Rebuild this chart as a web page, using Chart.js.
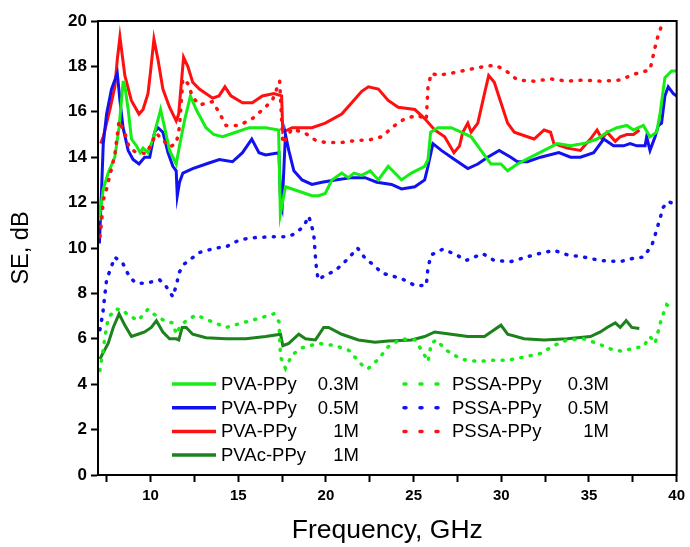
<!DOCTYPE html>
<html>
<head>
<meta charset="utf-8">
<script src="https://cdn.jsdelivr.net/npm/chart.js@4/dist/chart.umd.min.js"></script>
<style>
  body { margin: 0; background: #fff; }
  #wrap { width: 690px; height: 547px; }
</style>
</head>
<body>
<div id="wrap"><canvas id="seChart" width="690" height="547"></canvas></div>
<script>
// [frequency GHz, SE dB]
const pvaPPy03 = [[7.05,11.2],[7.11,11.5],[7.3,12.6],[7.58,13.3],[7.96,14.0],[8.2,15.3],[8.43,17.3],[8.5,17.3],[8.72,16.1],[8.91,14.8],[9.19,14.5],[9.4,14.2],[9.57,14.4],[9.85,14.2],[10.13,14.8],[10.57,16.1],[10.8,15.3],[11.08,14.3],[11.46,13.7],[11.65,14.5],[11.93,15.6],[12.27,16.7],[12.6,16.1],[13.16,15.3],[13.6,15.0],[14.1,14.9],[14.86,15.1],[15.62,15.3],[16.56,15.3],[17.3,15.2],[17.4,11.5],[17.69,12.7],[18.07,12.6],[18.83,12.4],[19.2,12.3],[19.58,12.3],[19.96,12.4],[20.34,13.0],[20.9,13.3],[21.28,13.1],[21.6,13.3],[22.04,13.2],[22.52,13.4],[22.99,13.0],[23.55,13.6],[24.31,13.0],[24.87,13.3],[25.63,13.6],[25.82,13.9],[25.97,15.1],[26.39,15.3],[27.14,15.3],[27.71,15.1],[28.28,14.9],[28.84,14.3],[29.41,13.7],[29.98,13.7],[30.36,13.4],[30.92,13.7],[31.68,14.0],[32.44,14.3],[33.19,14.6],[33.95,14.5],[34.7,14.6],[35.46,14.8],[36.03,15.1],[36.59,15.3],[37.16,15.4],[37.54,15.2],[38.1,15.4],[38.48,14.9],[38.86,15.1],[39.05,15.9],[39.33,17.5],[39.71,17.8],[40,17.8]];

const pvaPPy05 = [[7.08,10.2],[7.21,12.7],[7.3,14.6],[7.49,15.9],[7.77,17.0],[7.96,17.4],[8.1,17.7],[8.25,16.5],[8.43,15.3],[8.72,14.3],[9.0,13.9],[9.34,13.7],[9.66,14.0],[9.95,14.0],[10.23,15.1],[10.42,15.3],[10.7,15.1],[10.99,14.2],[11.27,13.6],[11.46,13.4],[11.52,12.3],[11.65,12.9],[11.84,13.3],[12.4,13.5],[13.16,13.7],[13.92,13.9],[14.67,13.8],[15.24,14.2],[15.77,14.8],[16.18,14.2],[16.56,14.1],[17.32,14.2],[17.41,12.1],[17.5,11.8],[17.69,15.0],[17.88,14.3],[18.17,13.4],[18.64,13.0],[19.2,12.8],[19.77,12.9],[20.53,13.0],[21.47,13.1],[22.23,13.1],[22.9,12.9],[23.74,12.8],[24.31,12.6],[25.07,12.7],[25.63,13.0],[25.82,13.6],[26.1,14.6],[26.58,14.3],[27.33,13.9],[28.09,13.5],[28.66,13.7],[29.22,14.0],[29.88,14.3],[30.54,14.0],[30.92,13.8],[31.49,13.8],[32.24,14.0],[33.28,14.2],[33.95,14.0],[34.51,14.0],[35.27,14.2],[35.84,14.8],[36.4,14.5],[36.97,14.5],[37.35,14.6],[37.73,14.5],[38.2,14.5],[38.29,14.9],[38.48,14.3],[38.77,14.9],[38.96,15.4],[39.14,15.5],[39.33,16.7],[39.52,17.1],[39.81,16.8],[40,16.7]];

const pvaPPy1 = [[7.15,14.6],[7.3,14.9],[7.68,16.1],[7.96,17.1],[8.1,18.3],[8.25,19.3],[8.53,17.6],[8.9,16.5],[9.34,15.9],[9.57,16.1],[9.85,16.8],[10.0,17.8],[10.19,19.2],[10.42,18.3],[10.7,17.0],[11.08,16.2],[11.46,15.6],[11.6,15.9],[11.88,18.4],[12.12,18.0],[12.4,17.3],[12.78,17.0],[13.54,16.6],[13.9,16.7],[14.24,17.1],[14.58,16.7],[15.24,16.4],[15.8,16.4],[16.37,16.7],[17.03,16.8],[17.47,16.7],[17.54,15.1],[18.07,15.3],[19.2,15.3],[19.96,15.5],[20.9,15.9],[21.47,16.4],[22.04,16.9],[22.42,17.1],[22.99,17.0],[23.55,16.5],[24.12,16.2],[25.07,16.1],[25.63,15.7],[26.2,15.2],[26.77,14.9],[27.3,14.2],[27.62,14.5],[27.8,15.1],[28.09,15.5],[28.28,15.1],[28.66,15.5],[29.04,16.8],[29.28,17.6],[29.6,17.3],[29.98,16.4],[30.36,15.5],[30.74,15.1],[31.49,14.9],[31.87,14.8],[32.44,15.2],[32.81,15.1],[33.0,14.6],[33.76,14.4],[34.51,14.3],[35.08,14.8],[35.46,15.2],[35.74,14.8],[36.03,15.1],[36.5,14.7],[36.78,14.9],[37.16,15.0],[37.54,15.0],[37.88,15.2]];

const pvacPPy1 = [[7.11,5.1],[7.3,5.4],[7.58,5.8],[7.87,6.5],[8.2,7.1],[8.53,6.6],[8.91,6.1],[9.28,6.2],[9.66,6.3],[10.04,6.5],[10.33,6.8],[10.7,6.3],[11.08,6.0],[11.46,6.0],[11.61,5.95],[11.8,6.5],[12.03,6.5],[12.4,6.2],[13.16,6.05],[14.3,6.0],[15.43,6.0],[16.56,6.1],[17.41,6.2],[17.54,5.7],[17.88,5.8],[18.45,6.2],[18.83,6.0],[19.4,5.95],[19.87,6.5],[20.15,6.5],[20.9,6.2],[21.85,5.95],[22.8,5.85],[23.55,5.9],[24.87,5.95],[25.63,6.1],[26.2,6.3],[27.14,6.2],[28.09,6.1],[29.04,6.1],[29.6,6.4],[29.98,6.6],[30.36,6.2],[31.3,6.0],[32.44,5.95],[33.76,6.0],[35.08,6.1],[35.65,6.3],[36.03,6.5],[36.5,6.7],[36.78,6.5],[37.12,6.8],[37.44,6.5],[37.87,6.45]];

const pssaPPy03 = [[7.11,4.6],[7.27,5.4],[7.4,6.1],[7.58,6.9],[7.96,7.3],[8.34,7.3],[8.72,7.05],[9.28,6.8],[9.85,7.3],[10.33,7.0],[10.89,6.75],[11.27,6.7],[11.46,6.2],[11.65,6.5],[12.03,6.8],[12.6,7.05],[13.35,6.8],[14.3,6.5],[15.24,6.7],[16.18,6.9],[17.03,7.1],[17.32,6.75],[17.41,5.2],[17.69,4.7],[18.07,5.3],[18.64,5.6],[19.58,5.8],[20.53,5.7],[21.29,5.5],[21.76,5.1],[22.23,4.7],[22.42,4.7],[22.99,5.1],[23.55,5.65],[24.31,6.0],[25.07,5.95],[25.54,5.4],[25.82,5.0],[26.01,5.8],[26.29,5.95],[26.86,5.5],[27.71,5.1],[28.66,5.0],[29.41,5.05],[30.36,5.05],[31.3,5.2],[32.24,5.35],[33.0,5.7],[33.76,5.95],[34.7,6.0],[35.46,5.8],[36.4,5.5],[36.97,5.45],[37.54,5.6],[38.1,5.65],[38.48,6.1],[38.77,5.8],[39.14,6.9],[39.43,7.5],[39.81,7.3]];

const pssaPPy05 = [[7.11,6.4],[7.27,7.1],[7.4,8.0],[7.49,8.6],[7.96,9.6],[8.43,9.3],[8.81,8.7],[9.19,8.45],[9.76,8.45],[10.51,8.6],[10.89,8.3],[11.27,7.85],[11.5,8.45],[11.61,8.9],[11.93,9.3],[12.78,9.8],[13.73,10.0],[14.3,10.05],[15.05,10.35],[15.8,10.45],[16.94,10.5],[17.88,10.5],[18.26,10.65],[18.73,10.95],[19.02,11.4],[19.3,10.65],[19.43,9.3],[19.55,8.6],[19.96,8.8],[20.53,9.0],[21.29,9.55],[21.8,10.0],[22.23,9.55],[22.8,9.2],[23.17,8.9],[24.31,8.65],[25.07,8.35],[25.72,8.35],[25.82,9.15],[26.01,9.7],[26.67,9.95],[27.43,9.7],[27.99,9.45],[28.94,9.75],[29.6,9.45],[30.54,9.4],[31.87,9.7],[33.0,9.9],[33.76,9.7],[34.7,9.6],[35.65,9.45],[36.78,9.4],[37.54,9.55],[38.1,9.6],[38.58,10.1],[38.86,10.8],[39.24,11.8],[39.52,12.05],[39.81,11.95]];

const pssaPPy1 = [[7.11,10.5],[7.21,11.2],[7.3,12.1],[7.49,12.6],[7.96,14.1],[8.2,15.6],[8.53,15.05],[8.77,14.45],[9.1,14.25],[9.76,14.15],[10.33,15.05],[10.7,14.75],[11.08,14.45],[11.46,14.6],[11.65,15.35],[11.84,17.45],[12.12,17.25],[12.4,16.65],[12.78,16.3],[13.54,16.45],[13.92,15.95],[14.3,15.4],[15.05,15.4],[15.8,15.7],[16.47,16.15],[16.94,16.5],[17.36,17.35],[17.54,14.6],[18.07,15.25],[18.83,15.05],[19.4,14.75],[19.96,14.65],[20.9,14.65],[21.85,14.75],[22.42,14.75],[23.17,14.9],[23.93,15.4],[24.5,15.7],[25.25,15.85],[25.72,15.65],[25.82,17.1],[26.01,17.7],[26.39,17.6],[27.14,17.7],[28.09,17.85],[29.04,18.0],[29.69,18.05],[30.36,17.75],[30.92,17.4],[31.87,17.35],[32.81,17.45],[33.76,17.35],[34.7,17.4],[35.65,17.35],[36.78,17.4],[37.54,17.65],[38.48,17.85],[38.86,19.15],[39.14,19.8],[39.3,20.3]];

const seriesNames = ['PSSA-PPy', 'PSSA-PPy', 'PSSA-PPy', 'PVAc-PPy', 'PVA-PPy', 'PVA-PPy', 'PVA-PPy'];
const seriesConc = ['0.3M', '0.5M', '1M', '1M', '0.3M', '0.5M', '1M'];
const xTicks = [7.5, 10, 12.5, 15, 17.5, 20, 22.5, 25, 27.5, 30, 32.5, 35, 37.5, 40];

const GREEN = '#14ee14', BLUE = '#1212f0', RED = '#ff1010', DKGREEN = '#1c821c';

function pts(arr) { return arr.map(p => ({ x: p[0], y: p[1] })); }

const seriesData = [pssaPPy03, pssaPPy05, pssaPPy1, pvacPPy1, pvaPPy03, pvaPPy05, pvaPPy1];
const seriesColor = [GREEN, BLUE, RED, DKGREEN, GREEN, BLUE, RED];
const dotted = [true, true, true, false, false, false, false];

const datasets = seriesData.map((d, i) => ({
  label: seriesNames[i] + ' ' + seriesConc[i],
  data: pts(d),
  borderColor: seriesColor[i],
  backgroundColor: seriesColor[i],
  borderWidth: dotted[i] ? 3.5 : 3,
  borderDash: dotted[i] ? [1, 8.5] : [],
  borderCapStyle: dotted[i] ? 'round' : 'butt',
  pointRadius: 0,
  tension: 0,
  showLine: true
}));

// legend in two columns inside the plot, drawn by hand
const legendLayout = [
  { idx: 4, col: 0, row: 0 }, { idx: 5, col: 0, row: 1 }, { idx: 6, col: 0, row: 2 }, { idx: 3, col: 0, row: 3 },
  { idx: 0, col: 1, row: 0 }, { idx: 1, col: 1, row: 1 }, { idx: 2, col: 1, row: 2 }
];

const framePlugin = {
  id: 'frame',
  afterDraw(chart) {
    const ctx = chart.ctx, a = chart.chartArea;
    ctx.save();
    ctx.strokeStyle = '#000';
    ctx.lineWidth = 2;
    ctx.strokeRect(a.left, a.top, a.right - a.left, a.bottom - a.top);

    ctx.font = '18.5px "Liberation Sans", Arial, sans-serif';
    ctx.textBaseline = 'middle';
    ctx.fillStyle = '#000';
    const cols = [
      { x0: 172, x1: 216, name: 221, conc: 359 },
      { x0: 404, x1: 438, name: 452, conc: 609 }
    ];
    legendLayout.forEach(it => {
      const ds = chart.data.datasets[it.idx];
      const c = cols[it.col];
      const y = 384 + it.row * 23.7;
      ctx.beginPath();
      ctx.strokeStyle = ds.borderColor;
      ctx.lineWidth = 3.5;
      ctx.lineCap = it.col ? 'round' : 'butt';
      ctx.setLineDash(it.col ? [2, 14] : []);
      ctx.moveTo(c.x0, y);
      ctx.lineTo(c.x1, y);
      ctx.stroke();
      ctx.setLineDash([]);
      ctx.textAlign = 'left';
      ctx.fillText(seriesNames[it.idx], c.name, y + 1);
      ctx.textAlign = 'right';
      ctx.fillText(seriesConc[it.idx], c.conc, y + 1);
    });
    ctx.restore();
  }
};

Chart.defaults.font.family = '"Liberation Sans", Arial, sans-serif';
Chart.defaults.color = '#000';

new Chart(document.getElementById('seChart'), {
  type: 'scatter',
  data: { datasets },
  options: {
    responsive: false,
    animation: false,
    layout: { padding: { left: 0, top: 21, right: 10, bottom: 0 } },
    plugins: { legend: { display: false }, tooltip: { enabled: false } },
    scales: {
      x: {
        type: 'linear',
        min: 7,
        max: 40,
        afterBuildTicks: axis => { axis.ticks = xTicks.map(v => ({ value: v })); },
        afterFit: axis => { axis.height = 72; },
        ticks: {
          autoSkip: false,
          maxRotation: 0,
          padding: 5,
          font: { size: 15, weight: 'bold' },
          callback: v => (v % 5 === 0 ? v : '')
        },
        grid: { drawOnChartArea: false, tickLength: 7, tickWidth: 2, tickColor: '#000' },
        border: { color: '#000', width: 2 },
        title: {
          display: true,
          text: 'Frequency, GHz',
          font: { size: 26.5 },
          padding: { top: 0, bottom: 0 }
        }
      },
      y: {
        min: 0,
        max: 20,
        afterFit: axis => { axis.width = 98; },
        ticks: {
          stepSize: 1,
          padding: 4,
          font: { size: 17, weight: 'bold' },
          callback: v => (v % 2 === 0 ? v : '')
        },
        grid: { drawOnChartArea: false, tickLength: 7, tickWidth: 2, tickColor: '#000' },
        border: { color: '#000', width: 2 },
        title: {
          display: true,
          text: 'SE, dB',
          font: { size: 23.5 },
          padding: { top: 7, bottom: 0 }
        }
      }
    }
  },
  plugins: [framePlugin]
});
</script>
</body>
</html>
